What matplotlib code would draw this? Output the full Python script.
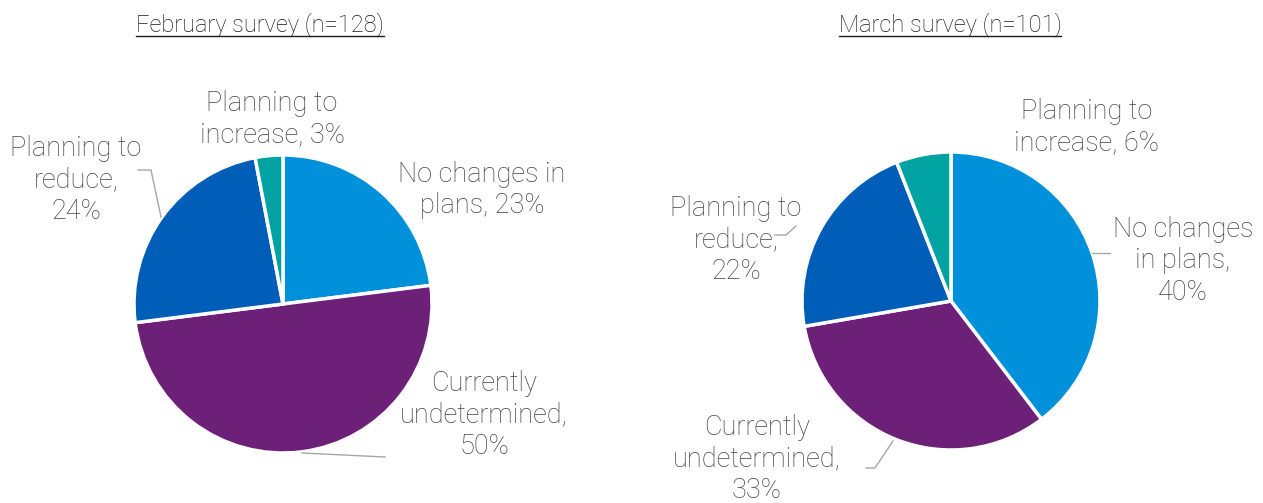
import matplotlib.pyplot as plt
from matplotlib.lines import Line2D

W, H = 1263, 503

categories = ['No changes in plans', 'Currently undetermined', 'Planning to reduce', 'Planning to increase']
feb_values = [23, 50, 24, 3]
mar_values = [40, 33, 22, 6]
feb_title = 'February survey (n=128)'
mar_title = 'March survey (n=101)'
colors = ['#0091DA', '#6D2077', '#005EB8', '#00A3A1']

TXT = '#444444'
LEAD = '#A6A6A6'
FONT = 'Roboto'

fig = plt.figure(figsize=(W / 100, H / 100), dpi=100)
ax = fig.add_axes([0, 0, 1, 1])


def y(v):
    # positions are measured from the top edge
    return H - v


def draw_pie(values, cx, cy, r):
    ax.pie(values, colors=colors, startangle=90, counterclock=False,
           center=(cx, y(cy)), radius=r,
           wedgeprops=dict(edgecolor='white', linewidth=2.5))


draw_pie(feb_values, 283, 304, 149)
draw_pie(mar_values, 951, 301, 149)

ax.set_xlim(0, W)
ax.set_ylim(0, H)
ax.set_aspect('equal')
ax.axis('off')


def label(text, x, yy):
    ax.text(x, y(yy), text, ha='center', va='center', fontsize=19.5,
            color=TXT, family=FONT, fontweight='light', linespacing=1.22)


def pct(v):
    return f'{v}%'


# February labels
label(f'Planning to\nincrease, {pct(feb_values[3])}', 272, 119)
label(f'Planning to\nreduce,\n{pct(feb_values[2])}', 76, 180)
label(f'No changes in\nplans, {pct(feb_values[0])}', 482, 190)
label(f'Currently\nundetermined,\n{pct(feb_values[1])}', 484, 415)

# March labels
label(f'Planning to\nincrease, {pct(mar_values[3])}', 1087, 127)
label(f'No changes\nin plans,\n{pct(mar_values[0])}', 1183, 261)
label(f'Planning to\nreduce,\n{pct(mar_values[2])}', 736, 240)
label(f'Currently\nundetermined,\n{pct(mar_values[1])}', 757, 459)

# leader lines
leaders = [
    [(138, 170), (151, 170), (161, 217)],
    [(385, 457), (302, 453)],
    [(1092, 253), (1110, 253)],
    [(775, 235), (786, 235), (796, 226)],
    [(866, 468), (875, 468), (893, 441)],
]
for pts in leaders:
    xs = [p[0] for p in pts]
    ys = [y(p[1]) for p in pts]
    ax.plot(xs, ys, color=LEAD, linewidth=1)

# underlined titles
titles = []
for t, x in [(feb_title, 260), (mar_title, 950)]:
    titles.append(ax.text(x, y(25), t, ha='center', va='center', fontsize=17,
                          color='#1A1A1A', family=FONT, fontweight='light'))

fig.canvas.draw()
renderer = fig.canvas.get_renderer()
for t in titles:
    bb = t.get_window_extent(renderer)
    yline = bb.y0 + 1
    fig.add_artist(Line2D([bb.x0 / W, bb.x1 / W], [yline / H, yline / H],
                          color='#1A1A1A', linewidth=1))

fig.savefig('out.png', dpi=100)
